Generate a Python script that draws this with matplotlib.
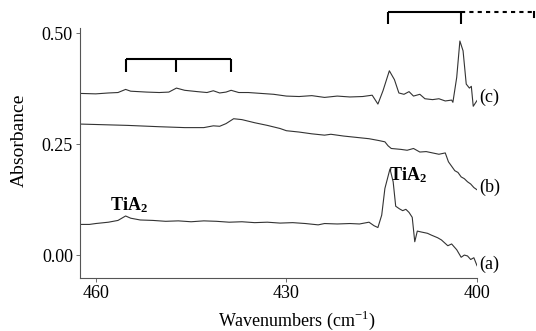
import matplotlib
matplotlib.use("Agg")
import matplotlib.pyplot as plt

plt.rcParams['font.family'] = ['Liberation Serif', 'DejaVu Serif']
plt.rcParams['mathtext.fontset'] = 'custom'
plt.rcParams['mathtext.rm'] = 'Liberation Serif'
plt.rcParams['mathtext.bf'] = 'Liberation Serif:bold'

# spectrum (a)
wn_a = [462.5, 461, 460, 458, 456.5, 455.3, 454.5, 453, 451, 449, 447, 445, 443, 441, 439,
        437, 435, 433, 431, 429, 427, 425, 424, 422, 420, 418.5, 417, 416.2, 415.6, 415,
        414.5, 413.7, 413.2, 412.8, 412.2, 411.7, 411.2, 410.7, 410.2, 409.8, 409.4, 408.8,
        407.8, 407.2, 406.2, 405.6, 404.6, 404.0, 403.2, 402.5, 402.0, 401.5, 401.0, 400.5, 400.0]
abs_a = [0.069, 0.069, 0.071, 0.074, 0.078, 0.088, 0.083, 0.079, 0.078, 0.076, 0.077, 0.075,
         0.077, 0.076, 0.074, 0.075, 0.073, 0.074, 0.072, 0.073, 0.071, 0.068, 0.071, 0.070,
         0.071, 0.070, 0.074, 0.066, 0.062, 0.090, 0.150, 0.194, 0.165, 0.110, 0.104, 0.100,
         0.103, 0.096, 0.085, 0.030, 0.054, 0.052, 0.049, 0.045, 0.039, 0.034, 0.021, 0.025,
         0.012, -0.005, 0.000, -0.002, -0.010, -0.006, -0.024]

# spectrum (b)
wn_b = [462.5, 460, 455, 450, 446, 443, 441.5, 440.5, 439.5, 438.3, 437, 435, 433, 431, 430,
        428, 426, 424, 423, 421, 419, 417, 415.5, 414.5, 414.0, 413.5, 412, 411, 410, 409,
        408, 407, 406, 405, 404.5, 404.0, 403.5, 403, 402.5, 402, 401.5, 401, 400.5, 400.0]
abs_b = [0.295, 0.294, 0.292, 0.289, 0.287, 0.287, 0.291, 0.290, 0.296, 0.307, 0.305, 0.298,
         0.292, 0.285, 0.280, 0.277, 0.273, 0.270, 0.272, 0.268, 0.265, 0.262, 0.258, 0.255,
         0.246, 0.240, 0.238, 0.236, 0.240, 0.232, 0.233, 0.230, 0.227, 0.230, 0.210, 0.200,
         0.190, 0.186, 0.176, 0.172, 0.165, 0.160, 0.152, 0.147]

# spectrum (c)
wn_c = [462.5, 460, 458, 456.5, 455.3, 454.5, 452, 450, 448.5, 447.3, 446, 444, 442.5, 441.5,
        440.5, 439.5, 438.7, 437.5, 436, 434, 432, 430, 428, 426, 424, 422, 420, 418, 416.5,
        415.6, 414.8, 413.8, 413.0, 412.3, 411.5, 410.7, 410, 409, 408.2, 407, 406, 405, 404,
        403.8, 403.2, 402.7, 402.2, 401.7, 401.2, 400.9, 400.6, 400.0]
abs_c = [0.364, 0.363, 0.365, 0.366, 0.373, 0.369, 0.367, 0.366, 0.367, 0.376, 0.371, 0.368,
         0.366, 0.370, 0.365, 0.367, 0.371, 0.366, 0.366, 0.364, 0.362, 0.358, 0.357, 0.359,
         0.355, 0.358, 0.356, 0.357, 0.360, 0.340, 0.370, 0.415, 0.395, 0.365, 0.362, 0.368,
         0.358, 0.362, 0.352, 0.350, 0.352, 0.347, 0.349, 0.344, 0.400, 0.482, 0.460, 0.385,
         0.376, 0.380, 0.335, 0.348]

spectra = [(wn_a, abs_a, "(a)", -0.020), (wn_b, abs_b, "(b)", 0.153), (wn_c, abs_c, "(c)", 0.356)]

# band assignment brackets
bracket1 = [455.3, 447.3, 438.7]
bracket2 = [414.0, 402.5]

fig = plt.figure(figsize=(5.36, 3.31), dpi=100)
ax = fig.add_axes([0.149, 0.161, 0.741, 0.754])

for wn, ab, lab, ly in spectra:
    ax.plot(wn, ab, color="#333333", lw=0.8)
    ax.text(399.6, ly, lab, fontsize=13, ha="left", va="center")

ax.set_xlim(462.5, 400)
ax.set_ylim(-0.051, 0.511)
ax.set_xticks([460, 430, 400])
ax.set_yticks([0.0, 0.25, 0.5])
ax.set_yticklabels(["0.00", "0.25", "0.50"])
ax.tick_params(labelsize=13, length=3, width=0.6, color="#555555", pad=2)
for s in ["top", "right"]:
    ax.spines[s].set_visible(False)
for s in ["left", "bottom"]:
    ax.spines[s].set_color("#555555")
    ax.spines[s].set_linewidth(0.8)

fig.text(0.036, 0.575, "Absorbance", fontsize=14, rotation=90, ha="center", va="center")
fig.text(0.553, 0.033, "Wavenumbers (cm$^{-1}$)", fontsize=13, ha="center", va="center")

# brackets
kw = dict(color="black", lw=1.5, clip_on=False, solid_capstyle="butt")
ax.plot([bracket1[0], bracket1[-1]], [0.441, 0.441], **kw)
for p in bracket1:
    ax.plot([p, p], [0.441, 0.413], **kw)
ax.plot([bracket2[0], bracket2[-1]], [0.547, 0.547], **kw)
for p in bracket2:
    ax.plot([p, p], [0.547, 0.520], **kw)
ax.plot([bracket2[-1], 391.0], [0.547, 0.547], color="black", lw=1.5, ls=(0, (2, 2)), clip_on=False)
ax.plot([391.0, 391.0], [0.547, 0.535], color="black", lw=1.5, clip_on=False)

ax.text(454.8, 0.113, r"$\mathbf{TiA_2}$", fontsize=13, ha="center", va="center")
ax.text(410.8, 0.180, r"$\mathbf{TiA_2}$", fontsize=13, ha="center", va="center")

fig.savefig("out.png", dpi=100)
